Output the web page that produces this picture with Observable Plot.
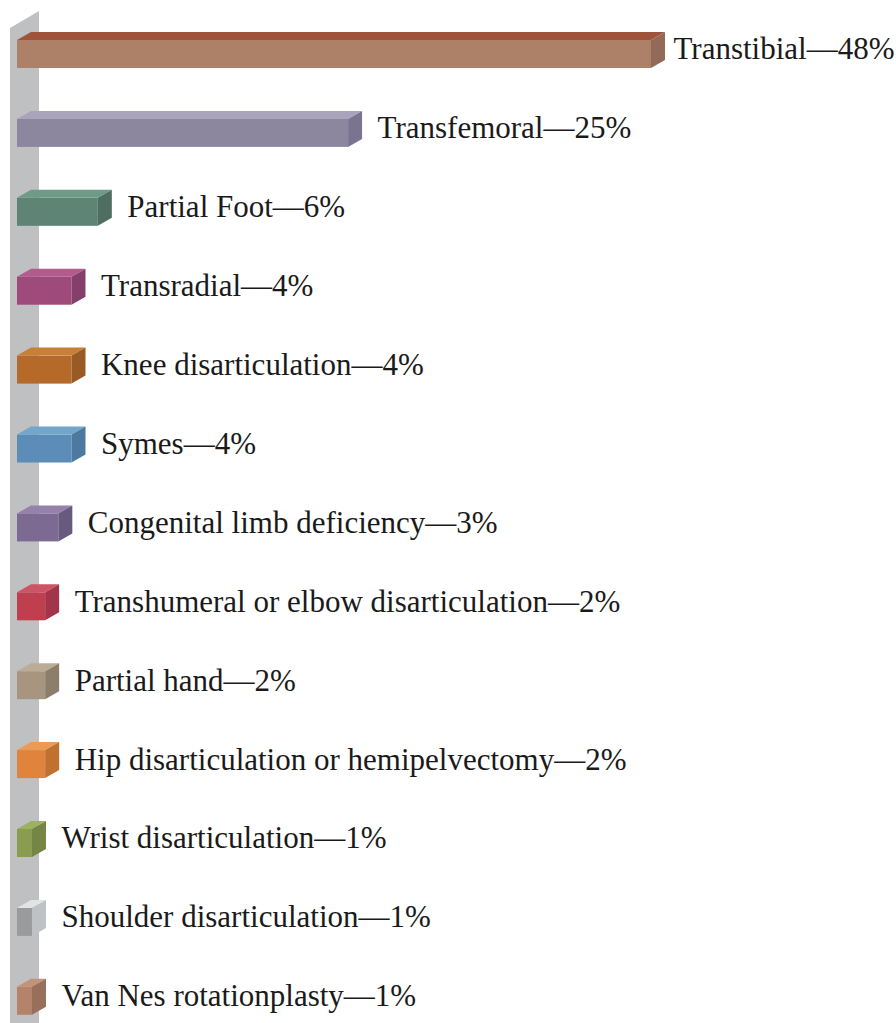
<!DOCTYPE html>
<html>
<head>
<meta charset="utf-8">
<script src="https://cdn.jsdelivr.net/npm/d3@7"></script>
<script src="https://cdn.jsdelivr.net/npm/@observablehq/plot@0.6"></script>
<style>
  html, body { margin: 0; padding: 0; background: #ffffff; overflow: hidden; }
  #chart svg { display: block; }
</style>
</head>
<body>
<div id="chart"></div>
<script>
const categories = [
  "Transtibial",
  "Transfemoral",
  "Partial Foot",
  "Transradial",
  "Knee disarticulation",
  "Symes",
  "Congenital limb deficiency",
  "Transhumeral or elbow disarticulation",
  "Partial hand",
  "Hip disarticulation or hemipelvectomy",
  "Wrist disarticulation",
  "Shoulder disarticulation",
  "Van Nes rotationplasty"
];
const values = [48, 25, 6, 4, 4, 4, 3, 2, 2, 2, 1, 1, 1];
const frontColors = ["#ad8068", "#8c869f", "#5d8474", "#9e4a7a", "#b56a2a", "#5b8db8", "#7d6a93", "#c03f4f", "#a89580", "#e0843d", "#8a9d4f", "#9a9b9d", "#b5826a"];
const topColors   = ["#9e533a", "#aaa4ba", "#6e9a88", "#b25c8e", "#c87f38", "#72a6cb", "#9482ab", "#cd5464", "#bbab97", "#eb9b55", "#9db165", "#e1e3e5", "#c29279"];
const sideColors  = ["#936a58", "#7a7490", "#4d6e61", "#84406a", "#9a5a23", "#4c79a0", "#68597e", "#a3354a", "#8d7d6b", "#c0702f", "#748544", "#bfc2c5", "#97705c"];

const data = categories.map((c, i) => ({
  category: c,
  value: values[i],
  front: frontColors[i],
  top: topColors[i],
  side: sideColors[i]
}));

const DEPTH_X = 14, DEPTH_Y = 8, LEFT_EXTRA = 1.8;
const svgNS = "http://www.w3.org/2000/svg";

function poly(points, fill) {
  const p = document.createElementNS(svgNS, "polygon");
  p.setAttribute("points", points.map(q => q.join(",")).join(" "));
  p.setAttribute("fill", fill);
  return p;
}

// back wall (decorative, left)
function wallMark(index, scales, values, dimensions) {
  const g = document.createElementNS(svgNS, "g");
  const h = dimensions.height;
  g.appendChild(poly([[10, 28], [39, 11], [39, h], [10, h]], "#bfc0c2"));
  return g;
}

// top and side faces of each bar, positioned by the plot's scales
function facesMark(index, scales) {
  const g = document.createElementNS(svgNS, "g");
  const x = scales.x, y = scales.y;
  const bw = typeof y.bandwidth === "function" ? y.bandwidth() : 28;
  for (const d of data) {
    const x0 = x(0) - LEFT_EXTRA, x1 = x(d.value);
    const y0 = y(d.category), y1 = y0 + bw;
    g.appendChild(poly([[x0, y0], [x0 + DEPTH_X, y0 - DEPTH_Y], [x1 + DEPTH_X, y0 - DEPTH_Y], [x1, y0]], d.top));
    g.appendChild(poly([[x1, y0], [x1 + DEPTH_X, y0 - DEPTH_Y], [x1 + DEPTH_X, y1 - DEPTH_Y], [x1, y1]], d.side));
  }
  return g;
}

const labelStyle = {
  x: "value",
  y: "category",
  text: d => `${d.category}—${d.value}%`,
  textAnchor: "start",
  dy: -5,
  fontSize: 31,
  fontFamily: "Liberation Serif",
  fill: "#1a1a1a"
};

const chart = Plot.plot({
  width: 896,
  height: 1023,
  margin: 0,
  x: { domain: [0, 48], range: [18.8, 651], axis: null },
  y: { domain: categories, range: [40, 1014.8], paddingInner: 0.645, paddingOuter: 0, round: false, axis: null },
  color: { type: "identity" },
  style: { background: "#ffffff" },
  marks: [
    wallMark,
    Plot.barX(data, { x: "value", y: "category", fill: "front", insetLeft: -LEFT_EXTRA }),
    facesMark,
    Plot.text(data, { ...labelStyle, filter: (d, i) => i === 0, dx: 22 }),
    Plot.text(data, { ...labelStyle, filter: (d, i) => i > 0, dx: 29 })
  ]
});
document.getElementById("chart").appendChild(chart);
</script>
</body>
</html>
